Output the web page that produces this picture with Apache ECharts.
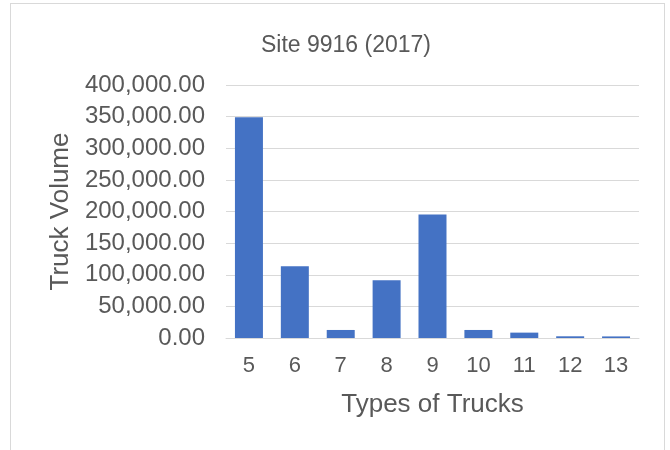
<!DOCTYPE html>
<html>
<head>
<meta charset="utf-8">
<script src="https://cdn.jsdelivr.net/npm/echarts@6/dist/echarts.min.js"></script>
<style>
  html, body { margin: 0; padding: 0; background: #fff; }
  #frame { position: absolute; left: 10px; top: 3px; width: 655px; height: 460px; border: 1px solid #d9d9d9; box-sizing: border-box; }
  #chart { width: 670px; height: 450px; position: absolute; left: 0; top: 0; }
</style>
</head>
<body>
<div id="frame"></div>
<div id="chart"></div>
<script>
var truckTypes = ['5', '6', '7', '8', '9', '10', '11', '12', '13'];
var truckVolume = [349000, 113500, 12700, 91300, 195300, 12700, 8500, 2700, 2500];

var myChart = echarts.init(document.getElementById('chart'));
var textColor = '#595959';
var option = {
    animation: false,
    title: {
        text: 'Site 9916 (2017)', left: 341, top: 29, textAlign: 'center',
        textStyle: {fontFamily: 'Liberation Sans', fontSize: 23, fontWeight: 'normal', color: textColor}
    },
    grid: {left: 226, right: 31, top: 85, bottom: 112},
    xAxis: {
        type: 'category', data: truckTypes,
        name: 'Types of Trucks', nameLocation: 'middle', nameGap: 54,
        nameTextStyle: {fontFamily: 'Liberation Sans', fontSize: 26, color: textColor},
        axisLine: {lineStyle: {color: '#d9d9d9', width: 1}},
        axisTick: {show: false},
        axisLabel: {fontFamily: 'Liberation Sans', fontSize: 22, color: textColor, margin: 17, interval: 0}
    },
    yAxis: {
        type: 'value', min: 0, max: 400000, interval: 50000,
        name: 'Truck Volume', nameLocation: 'middle', nameGap: 149,
        nameTextStyle: {fontFamily: 'Liberation Sans', fontSize: 26, color: textColor},
        axisLine: {show: false}, axisTick: {show: false},
        splitLine: {lineStyle: {color: '#d9d9d9', width: 1}},
        axisLabel: {
            fontFamily: 'Liberation Sans', fontSize: 24, color: textColor, margin: 21,
            formatter: function (v) {
                return v.toLocaleString('en-US', {minimumFractionDigits: 2, maximumFractionDigits: 2});
            }
        }
    },
    series: [{
        type: 'bar', data: truckVolume, barCategoryGap: '39%',
        itemStyle: {color: '#4472c4'}
    }]
};
myChart.setOption(option, true);
</script>
</body>
</html>
